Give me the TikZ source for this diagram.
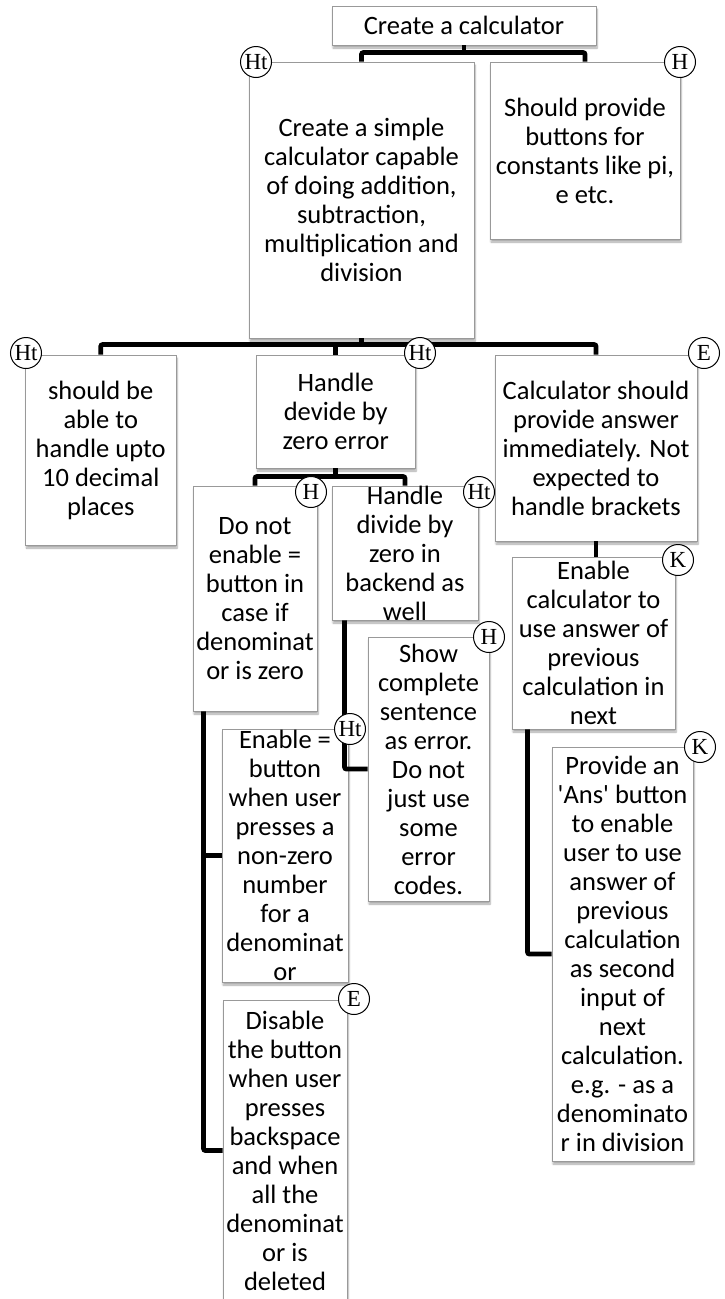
\documentclass[tikz,border=0pt]{standalone}
\usepackage{fontspec}
\setmainfont{Carlito}[Ligatures=TeXOff]
\newfontfamily\circfont{Liberation Serif}
\usetikzlibrary{shadows.blur}
\begin{document}
\begin{tikzpicture}[x=1pt,y=-1pt,
  box/.style={rectangle, draw=black!40, line width=0.9pt, fill=white, inner sep=0pt,
    blur shadow={shadow xshift=1pt, shadow yshift=-3pt, shadow blur steps=6, shadow opacity=35}},
  txt/.style={inner sep=0pt, align=center, font=\fontsize{26.5}{29}\selectfont},
  badge/.style={circle, draw=black, line width=1pt, fill=white, minimum size=31pt, inner sep=0pt,
    font=\circfont\fontsize{23}{23}\selectfont},
  conn/.style={line width=4.8pt, rounded corners=2pt}]
\useasboundingbox (0,0) rectangle (724,1299);

% boxes
\node[box, minimum width=264pt, minimum height=39pt]  (top) at (464,25.5) {};
\node[box, minimum width=225pt, minimum height=276pt] (A)   at (361.5,200) {};
\node[box, minimum width=190pt, minimum height=177pt] (B)   at (585,150.5) {};
\node[box, minimum width=150.5pt, minimum height=190pt] (L) at (100.75,450) {};
\node[box, minimum width=158.5pt, minimum height=113pt] (M) at (335.75,411.5) {};
\node[box, minimum width=202pt, minimum height=186pt] (R)   at (596,448) {};
\node[box, minimum width=124pt, minimum height=225pt] (D)   at (255,598.5) {};
\node[box, minimum width=146pt, minimum height=134pt] (HB)  at (405,553) {};
\node[box, minimum width=121pt, minimum height=264pt] (S)   at (428.5,769) {};
\node[box, minimum width=126pt, minimum height=253pt] (En)  at (285,855.5) {};
\node[box, minimum width=124pt, minimum height=301pt] (Dis) at (285,1150.5) {};
\node[box, minimum width=163pt, minimum height=172pt] (K)   at (593.5,643) {};
\node[box, minimum width=141pt, minimum height=414pt] (Ans) at (622.5,954) {};

% texts
\node[txt] at (top) {Create a calculator};
\node[txt] at (A) {Create a simple\\calculator capable\\of doing addition,\\subtraction,\\multiplication and\\division};
\node[txt] at (B) {Should provide\\buttons for\\constants like pi,\\e etc.};
\node[txt] at (L) {should be\\able to\\handle upto\\10 decimal\\places};
\node[txt] at (M) {Handle\\devide by\\zero error};
\node[txt] at (R) {Calculator should\\provide answer\\immediately. Not\\expected to\\handle brackets};
\node[txt] at (D) {Do not\\enable =\\button in\\case if\\denominat\\or is zero};
\node[txt] at (HB) {Handle\\divide by\\zero in\\backend as\\well};
\node[txt] at (S) {Show\\complete\\sentence\\as error.\\Do not\\just use\\some\\error\\codes.};
\node[txt] at (En) {Enable =\\button\\when user\\presses a\\non-zero\\number\\for a\\denominat\\or};
\node[txt] at (Dis) {Disable\\the button\\when user\\presses\\backspace\\and when\\all the\\denominat\\or is\\deleted};
\node[txt] at (K) {Enable\\calculator to\\use answer of\\previous\\calculation in\\next};
\node[txt] at (Ans) {Provide an\\'Ans' button\\to enable\\user to use\\answer of\\previous\\calculation\\as second\\input of\\next\\calculation.\\e.g. - as a\\denominato\\r in division};

% connectors
\draw[conn] (top.south) -- ++(0,8.5);
\draw[conn] (A.north) -- ++(0,-9) -| (B.north);
\draw[conn] (A.south) -- ++(0,7.5);
\draw[conn] (L.north) -- ++(0,-10) -| (R.north);
\draw[conn] (M.north) -- ++(0,-10);
\draw[conn] (M.south) -- ++(0,9.5);
\draw[conn] (D.north) -- ++(0,-9) -| (HB.north);
\coordinate (hbv) at ([xshift=13pt]HB.south west);
\draw[conn] (hbv) |- (S.west);
\coordinate (dv) at ([xshift=11pt]D.south west);
\draw[conn] (dv) |- (Dis.west);
\draw[conn] (dv |- En.west) -- (En.west);
\draw[conn] (R.south) -- (R.south |- K.north);
\coordinate (kv) at ([xshift=16pt]K.south west);
\draw[conn] (kv) |- (Ans.west);

% badges
\node[badge] (cA) at (256,62) {Ht};
\node[badge] (cB) at (680,62) {H};
\node[badge] (cL) at (26,353) {Ht};
\node[badge] (cM) at (420,353) {Ht};
\node[badge] (cR) at (704,353) {E};
\node[badge] (cD) at (311,492) {H};
\node[badge] (cHB) at (479,492) {Ht};
\node[badge] (cS) at (489,637) {H};
\node[badge] (cEn) at (350,729) {Ht};
\node[badge] (cDis) at (354,999) {E};
\node[badge] (cK) at (678,560) {K};
\node[badge] (cAns) at (700,747) {K};
\end{tikzpicture}
\end{document}
